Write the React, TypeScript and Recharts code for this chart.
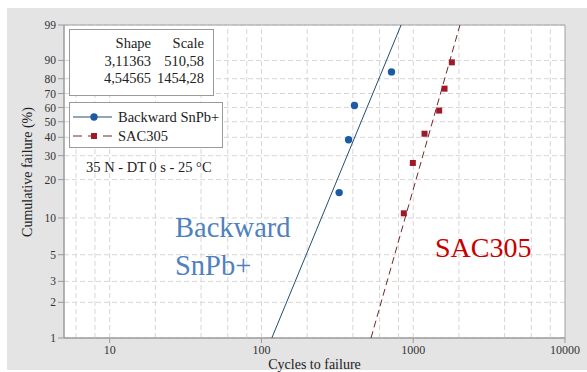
import { ComposedChart, Scatter, XAxis, YAxis, CartesianGrid, ReferenceLine, ReferenceArea, Label } from "recharts";

// Weibull probability plot: cycles to failure (log) vs cumulative failure (Weibull scale)

const probTicks = [1, 2, 3, 5, 10, 20, 30, 40, 50, 60, 70, 80, 90, 99];
const cycleTicks = [10, 100, 1000, 10000];
const cycleGrid = [6, 8, 10, 20, 40, 60, 80, 100, 200, 400, 600, 800, 1000, 2000, 4000, 6000, 8000];

const snpbCycles = [325, 375, 410, 719];
const snpbFailure = [15.9, 38.6, 61.4, 84.1];
const sacCycles = [867, 994, 1187, 1482, 1608, 1797];
const sacFailure = [10.9, 26.6, 42.2, 57.8, 73.4, 89.1];

// fitted lines, read at 1 % and 99 %
const fitFailure = [1, 99];
const snpbFitCycles = [117, 832];
const sacFitCycles = [527, 2032];

const paramRows = [
  { shape: "3,11363", scale: "510,58" },
  { shape: "4,54565", scale: "1454,28" },
];

const SERIF = '"Liberation Serif", "Times New Roman", serif';
const BLUE_DOT = "#1c5aa6";
const BLUE_LINE = "#234f6e";
const RED_DOT = "#9e1a28";
const RED_LINE = "#6e2a2a";
const GRID = "#d6d6d6";

const weib = (p: number) => Math.log(-Math.log(1 - p / 100));
const unweib = (y: number) => 100 * (1 - Math.exp(-Math.exp(y)));

const pts = (cycles: number[], failure: number[]) => cycles.map((c, i) => ({ x: c, y: weib(failure[i]) }));

const snpb = pts(snpbCycles, snpbFailure);
const sac = pts(sacCycles, sacFailure);
const snpbFit = pts(snpbFitCycles, fitFailure);
const sacFit = pts(sacFitCycles, fitFailure);

const Dot = (p: any) => <circle cx={p.cx} cy={p.cy} r={3.7} fill={BLUE_DOT} />;
const Sq = (p: any) => <rect x={p.cx - 3} y={p.cy - 3} width={6} height={6} fill={RED_DOT} />;
const None = () => <g />;

export default function App() {
  const yMin = weib(probTicks[0]);
  const yMax = weib(probTicks[probTicks.length - 1]);
  return (
    <div style={{ position: "absolute", left: 0, top: 0, width: 587, height: 372, background: "#fff", fontFamily: SERIF }}>
      <div style={{ position: "absolute", left: 7, top: 8, width: 580, height: 362, background: "#e4e4e4" }} />
      <div style={{ position: "absolute", left: 0, top: 0 }}>
        <ComposedChart width={587} height={372} margin={{ top: 25, right: 22, left: 0, bottom: 0 }}>
          <CartesianGrid vertical={false} stroke={GRID} strokeDasharray="5 3" fill="#fff" />
          <XAxis
            dataKey="x"
            type="number"
            scale="log"
            domain={[5, 10000]}
            allowDataOverflow
            ticks={cycleTicks}
            interval={0}
            height={34}
            tickSize={5}
            tickMargin={2}
            stroke="#9a9a9a"
            tick={{ fill: "#333", fontSize: 12, fontFamily: SERIF }}
          >
            <Label value="Cycles to failure" position="insideBottom" offset={3} style={{ fill: "#222", fontSize: 14, fontFamily: SERIF }} />
          </XAxis>
          <YAxis
            dataKey="y"
            type="number"
            domain={[yMin, yMax]}
            allowDataOverflow
            ticks={probTicks.map(weib)}
            interval={0}
            width={64}
            tickSize={6}
            tickMargin={2}
            stroke="#9a9a9a"
            tickFormatter={(v: number) => String(Math.round(unweib(v)))}
            tick={{ fill: "#333", fontSize: 11.5, fontFamily: SERIF }}
          />
          {cycleGrid.map((c) => (
            <ReferenceLine key={c} x={c} stroke={GRID} strokeDasharray="5 3" />
          ))}
          <ReferenceArea x1={5} x2={10000} y1={yMin} y2={yMax} fill="none" stroke="#a0a0a0" />
          <Scatter data={snpbFit} shape={None} line={{ stroke: BLUE_LINE, strokeWidth: 1 }} isAnimationActive={false} />
          <Scatter data={sacFit} shape={None} line={{ stroke: RED_LINE, strokeWidth: 1, strokeDasharray: "7 4" }} isAnimationActive={false} />
          <Scatter data={snpb} shape={Dot} isAnimationActive={false} />
          <Scatter data={sac} shape={Sq} isAnimationActive={false} />
        </ComposedChart>
      </div>
      <svg width={587} height={372} style={{ position: "absolute", left: 0, top: 0, pointerEvents: "none" }} fontFamily={SERIF}>
        <text x={27} y={172} transform="rotate(-90 27 172)" textAnchor="middle" dominantBaseline="central" fontSize={14} fill="#222">
          Cumulative failure (%)
        </text>
        <rect x={69.5} y={29.5} width={144} height={66} fill="#fff" stroke="#9a9a9a" />
        <g fontSize={14.5} fill="#222" textAnchor="end">
          <text x={151} y={48}>Shape</text>
          <text x={204} y={48}>Scale</text>
          {paramRows.map((r, i) => (
            <g key={i}>
              <text x={151} y={66 + i * 17}>{r.shape}</text>
              <text x={204} y={66 + i * 17}>{r.scale}</text>
            </g>
          ))}
        </g>
        <rect x={69.5} y={102.5} width={153} height={45} fill="#fff" stroke="#9a9a9a" />
        <line x1={73} x2={112} y1={117} y2={117} stroke={BLUE_LINE} />
        <circle cx={94} cy={117} r={3.7} fill={BLUE_DOT} />
        <line x1={73} x2={112} y1={136} y2={136} stroke={RED_LINE} strokeDasharray="9 6" />
        <rect x={91} y={133} width={6} height={6} fill={RED_DOT} />
        <g fontSize={14.5} fill="#222">
          <text x={118} y={122}>Backward SnPb+</text>
          <text x={118} y={141}>SAC305</text>
          <text x={86} y={172}>35 N - DT 0 s - 25 °C</text>
        </g>
        <g fontSize={28.5} fill="#4f81bd">
          <text x={175} y={237}>Backward</text>
          <text x={175} y={275}>SnPb+</text>
        </g>
        <text x={435} y={257} fontSize={28} fill="#c80000">SAC305</text>
      </svg>
    </div>
  );
}
